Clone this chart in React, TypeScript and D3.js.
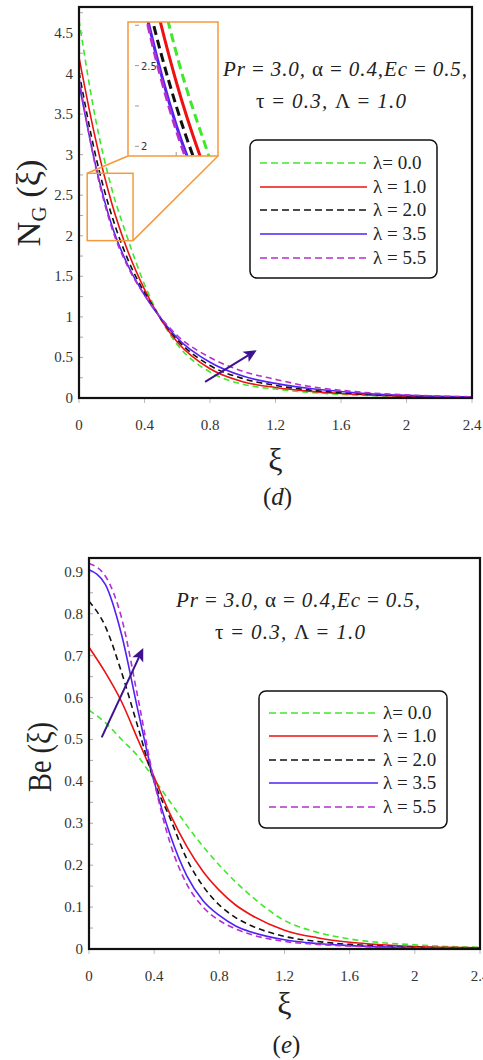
import React from "react";
import * as d3 from "d3";

const XI = [0, 0.1, 0.2, 0.3, 0.4, 0.5, 0.6, 0.8, 1.0, 1.2, 1.4, 1.6, 1.8, 2.0, 2.2, 2.4];
const NG_L0 = [4.66, 3.45, 2.58, 1.95, 1.4, 0.97, 0.66, 0.32, 0.17, 0.11, 0.07, 0.045, 0.028, 0.018, 0.012, 0.008];
const NG_L1 = [4.2, 3.2, 2.4, 1.8, 1.34, 0.97, 0.69, 0.36, 0.2, 0.13, 0.085, 0.055, 0.035, 0.022, 0.013, 0.008];
const NG_L2 = [4.02, 3.0, 2.25, 1.7, 1.3, 0.98, 0.72, 0.4, 0.24, 0.155, 0.1, 0.065, 0.042, 0.027, 0.016, 0.01];
const NG_L35 = [3.88, 2.88, 2.13, 1.63, 1.27, 0.98, 0.74, 0.44, 0.27, 0.18, 0.12, 0.08, 0.05, 0.032, 0.02, 0.012];
const NG_L55 = [3.95, 2.86, 2.1, 1.61, 1.27, 0.99, 0.77, 0.5, 0.33, 0.23, 0.145, 0.095, 0.06, 0.038, 0.024, 0.015];

const XI_BE = [0, 0.1, 0.2, 0.3, 0.4, 0.5, 0.6, 0.7, 0.8, 0.9, 1.0, 1.2, 1.4, 1.6, 1.8, 2.0, 2.2, 2.4];
const BE_L0 = [0.57, 0.54, 0.5, 0.46, 0.405, 0.35, 0.295, 0.245, 0.2, 0.16, 0.125, 0.068, 0.04, 0.024, 0.015, 0.01, 0.006, 0.004];
const BE_L1 = [0.72, 0.66, 0.59, 0.5, 0.41, 0.32, 0.245, 0.185, 0.14, 0.105, 0.08, 0.045, 0.027, 0.016, 0.01, 0.006, 0.004, 0.003];
const BE_L2 = [0.83, 0.77, 0.66, 0.53, 0.4, 0.31, 0.215, 0.15, 0.105, 0.075, 0.055, 0.03, 0.018, 0.011, 0.007, 0.004, 0.003, 0.002];
const BE_L35 = [0.905, 0.87, 0.75, 0.57, 0.4, 0.27, 0.175, 0.115, 0.08, 0.055, 0.04, 0.022, 0.013, 0.008, 0.005, 0.003, 0.002, 0.0015];
const BE_L55 = [0.92, 0.89, 0.79, 0.6, 0.4, 0.25, 0.155, 0.1, 0.068, 0.048, 0.034, 0.018, 0.011, 0.007, 0.004, 0.003, 0.002, 0.001];

const LEGEND_LABELS = ["λ= 0.0", "λ = 1.0", "λ = 2.0", "λ = 3.5", "λ = 5.5"];
const COLORS = ["#3fe82a", "#ee1111", "#111111", "#4f22f5", "#b52fcf"];
const DASHED = [true, false, true, false, true];
const X_TICKS = [0, 0.4, 0.8, 1.2, 1.6, 2, 2.4];
const NG_TICKS = [0, 0.5, 1, 1.5, 2, 2.5, 3, 3.5, 4, 4.5];
const BE_TICKS = [0, 0.1, 0.2, 0.3, 0.4, 0.5, 0.6, 0.7, 0.8, 0.9];
const INSET_TICKS = [2, 2.5];

const ARROW_COLOR = "#3d128f";
const SERIF = "'Liberation Serif', 'DejaVu Serif', serif";

type ChartProps = {
  id: string;
  xs: number[];
  series: number[][];
  yMax: number;
  yTicks: number[];
  yMinorStep: number;
  left: number; right: number; top: number; bottom: number;
  yLabelPrefix: string;
  yLabelSub?: string;
  yLabelX: number; yLabelY: number; yLabelLen: number;
  xLabelY: number; captionY: number; caption: string;
  tickLabelRight: number;
  ann: { x1: number; x2: number; y1: number; y2: number };
  legend: { x: number; y: number; w: number; h: number; rowY: number[]; lineX1: number; lineX2: number; textX: number };
  arrow: [number, number, number, number];
  inset?: boolean;
};

function fmt(v: number) {
  return String(Math.round(v * 10) / 10);
}

function Chart(p: ChartProps) {
  const x = d3.scaleLinear().domain([0, 2.4]).range([p.left, p.right]);
  const y = d3.scaleLinear().domain([0, p.yMax]).range([p.bottom, p.top]);
  const line = d3
    .line<[number, number]>()
    .x((d) => x(d[0]))
    .y((d) => y(d[1]))
    .curve(d3.curveMonotoneX);
  const minor = d3.range(0, p.yMax, p.yMinorStep);
  const [ax0, ay0, ax1, ay1] = p.arrow;
  const ang = Math.atan2(y(ay1) - y(ay0), x(ax1) - x(ax0));
  const hl = 13, hw = 6;
  const tx = x(ax1), ty = y(ay1);
  const bx = tx - hl * Math.cos(ang), by = ty - hl * Math.sin(ang);
  const head = `M${tx},${ty} L${bx + hw * Math.sin(ang)},${by - hw * Math.cos(ang)} L${bx + 3 * Math.cos(ang)},${by + 3 * Math.sin(ang)} L${bx - hw * Math.sin(ang)},${by + hw * Math.cos(ang)} Z`;

  const ix = d3.scaleLinear().domain([0.05, 0.33]).range([128, 218]);
  const iy = d3.scaleLinear().domain([1.94, 2.77]).range([156, 22]);
  const iline = d3
    .line<[number, number]>()
    .x((d) => ix(d[0]))
    .y((d) => iy(d[1]))
    .curve(d3.curveMonotoneX);

  const paramStyle = { fontFamily: SERIF, fontSize: 21, fill: "#222" } as const;

  return (
    <g>
      <defs>
        <clipPath id={p.id + "-clip"}>
          <rect x={p.left} y={p.top} width={p.right - p.left} height={p.bottom - p.top} />
        </clipPath>
        <clipPath id={p.id + "-iclip"}>
          <rect x={128} y={22} width={90} height={134} />
        </clipPath>
      </defs>
      {minor.map((v, i) => (
        <line key={"ym" + i} x1={p.left} x2={p.left + 4} y1={y(v)} y2={y(v)} stroke="#aaa" strokeWidth={1} />
      ))}
      {X_TICKS.map((v, i) => (
        <line key={"xt" + i} x1={x(v)} x2={x(v)} y1={p.bottom} y2={p.bottom + 5} stroke="#bbb" strokeWidth={1} />
      ))}
      {p.yTicks.map((v, i) => (
        <text key={"yl" + i} x={p.tickLabelRight} y={y(v) + 5} textAnchor="end" fontFamily={SERIF} fontSize={15} fill="#333">
          {fmt(v)}
        </text>
      ))}
      {X_TICKS.map((v, i) => (
        <text key={"xl" + i} x={x(v)} y={p.bottom + 32} textAnchor="middle" fontFamily={SERIF} fontSize={15} fill="#333">
          {fmt(v)}
        </text>
      ))}
      <g clipPath={`url(#${p.id}-clip)`}>
        {p.series.map((s, i) => (
          <path
            key={"s" + i}
            d={line(p.xs.map((xv, j) => [xv, s[j]] as [number, number])) || ""}
            fill="none"
            stroke={COLORS[i]}
            strokeWidth={1.6}
            strokeDasharray={DASHED[i] ? "6,4" : undefined}
          />
        ))}
      </g>
      <rect x={p.left} y={p.top} width={p.right - p.left} height={p.bottom - p.top} fill="none" stroke="#111" strokeWidth={2.2} />

      {p.inset && (
        <g>
          <rect x={x(0.05)} y={y(2.77)} width={x(0.33) - x(0.05)} height={y(1.94) - y(2.77)} fill="none" stroke="#f59a3c" strokeWidth={1.5} />
          <line x1={x(0.05)} y1={y(2.77)} x2={128} y2={156} stroke="#f59a3c" strokeWidth={1.5} />
          <line x1={x(0.33)} y1={y(1.94)} x2={218} y2={156} stroke="#f59a3c" strokeWidth={1.5} />
          <rect x={128} y={22} width={90} height={134} fill="#fff" stroke="none" />
          {[2, 2.25, 2.5, 2.75].map((v, i) => (
            <line key={"it" + i} x1={135} x2={139} y1={iy(v)} y2={iy(v)} stroke="#999" strokeWidth={1} />
          ))}
          <line x1={ix(0.2)} x2={ix(0.2)} y1={156} y2={152} stroke="#999" strokeWidth={1} />
          {INSET_TICKS.map((v, i) => (
            <text key={"il" + i} x={141} y={iy(v) + 4} fontFamily="'DejaVu Sans', sans-serif" fontSize={10} fill="#333">
              {fmt(v)}
            </text>
          ))}
          <g clipPath={`url(#${p.id}-iclip)`}>
            {p.series.map((s, i) => (
              <path
                key={"is" + i}
                d={iline(p.xs.map((xv, j) => [xv, s[j]] as [number, number])) || ""}
                fill="none"
                stroke={COLORS[i]}
                strokeWidth={3}
                strokeDasharray={DASHED[i] ? "9,5" : undefined}
              />
            ))}
          </g>
          <rect x={128} y={22} width={90} height={134} fill="none" stroke="#f59a3c" strokeWidth={1.5} />
        </g>
      )}

      <text x={p.ann.x1} y={p.ann.y1} textAnchor="middle" textLength={244} {...paramStyle}>
        <tspan fontStyle="italic">Pr</tspan>
        <tspan> = </tspan>
        <tspan fontStyle="italic">3.0, </tspan>
        <tspan>α = </tspan>
        <tspan fontStyle="italic">0.4,Ec</tspan>
        <tspan> = </tspan>
        <tspan fontStyle="italic">0.5,</tspan>
      </text>
      <text x={p.ann.x2} y={p.ann.y2} textAnchor="middle" textLength={150} {...paramStyle}>
        <tspan>τ = </tspan>
        <tspan fontStyle="italic">0.3, </tspan>
        <tspan>Λ = </tspan>
        <tspan fontStyle="italic">1.0</tspan>
      </text>

      <rect x={p.legend.x} y={p.legend.y} width={p.legend.w} height={p.legend.h} rx={7} ry={7} fill="#fff" stroke="#111" strokeWidth={1.5} />
      {LEGEND_LABELS.map((lab, i) => (
        <g key={"lg" + i}>
          <line
            x1={p.legend.lineX1}
            x2={p.legend.lineX2}
            y1={p.legend.rowY[i]}
            y2={p.legend.rowY[i]}
            stroke={COLORS[i]}
            strokeWidth={1.6}
            strokeDasharray={DASHED[i] ? "7,4" : undefined}
          />
          <text x={p.legend.textX} y={p.legend.rowY[i] + 6} fontFamily={SERIF} fontSize={19} fill="#222">
            {lab}
          </text>
        </g>
      ))}

      <line x1={x(ax0)} y1={y(ay0)} x2={bx + 3 * Math.cos(ang)} y2={by + 3 * Math.sin(ang)} stroke={ARROW_COLOR} strokeWidth={2} />
      <path d={head} fill={ARROW_COLOR} />

      <text
        transform={`translate(${p.yLabelX},${p.yLabelY}) rotate(-90)`}
        textAnchor="middle"
        fontFamily={SERIF}
        fontSize={33}
        fill="#222"
        textLength={p.yLabelLen}
        lengthAdjust="spacingAndGlyphs"
      >
        {p.yLabelPrefix}
        {p.yLabelSub && (
          <tspan fontSize={20} dy={6}>
            {p.yLabelSub}
          </tspan>
        )}
        <tspan dy={p.yLabelSub ? -6 : 0}>{" (ξ)"}</tspan>
      </text>
      <text x={(p.left + p.right) / 2} y={p.xLabelY} textAnchor="middle" fontFamily={SERIF} fontSize={32} fill="#222">
        ξ
      </text>
      <text x={(p.left + p.right) / 2 + 2} y={p.captionY} textAnchor="middle" fontFamily={SERIF} fontSize={25} fill="#222">
        (<tspan fontStyle="italic">{p.caption}</tspan>)
      </text>
    </g>
  );
}

export default function App() {
  return (
    <svg
      width={483}
      height={1060}
      viewBox="0 0 483 1060"
      style={{ position: "absolute", left: 0, top: 0, background: "#fff" }}
    >
      <rect width={483} height={1060} fill="#fff" />
      <Chart
        id="ng"
        xs={XI}
        series={[NG_L0, NG_L1, NG_L2, NG_L35, NG_L55]}
        yMax={4.82}
        yTicks={NG_TICKS}
        yMinorStep={0.25}
        left={79}
        right={472}
        top={7}
        bottom={398}
        yLabelPrefix="N"
        yLabelSub="G"
        yLabelX={40}
        yLabelY={203}
        yLabelLen={87}
        xLabelY={470}
        captionY={505}
        caption="d"
        tickLabelRight={73}
        ann={{ x1: 345, x2: 331, y1: 76, y2: 108 }}
        legend={{ x: 250, y: 140, w: 187, h: 138, rowY: [163, 187, 210, 234, 258], lineX1: 260, lineX2: 367, textX: 373 }}
        arrow={[0.77, 0.2, 1.085, 0.59]}
        inset
      />
      <Chart
        id="be"
        xs={XI_BE}
        series={[BE_L0, BE_L1, BE_L2, BE_L35, BE_L55]}
        yMax={0.933}
        yTicks={BE_TICKS}
        yMinorStep={0.05}
        left={89}
        right={480}
        top={558}
        bottom={949}
        yLabelPrefix="Be"
        yLabelX={51}
        yLabelY={757}
        yLabelLen={70}
        xLabelY={1014}
        captionY={1053}
        caption="e"
        tickLabelRight={83}
        ann={{ x1: 298, x2: 290, y1: 607, y2: 639 }}
        legend={{ x: 259, y: 691, w: 188, h: 137, rowY: [713, 736, 760, 783, 807], lineX1: 269, lineX2: 378, textX: 383 }}
        arrow={[0.078, 0.505, 0.333, 0.718]}
      />
    </svg>
  );
}
